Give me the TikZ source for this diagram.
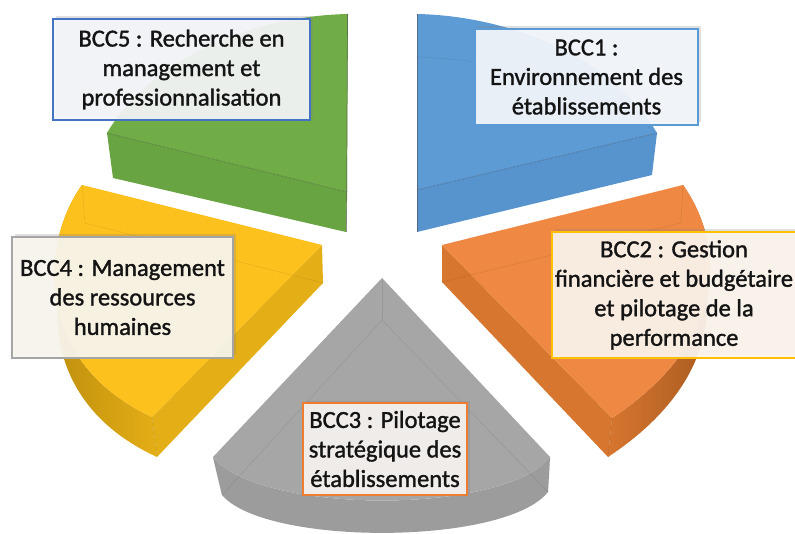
\documentclass[tikz,border=0pt]{standalone}
\usepackage{fontspec}
\setmainfont{Carlito}
\newfontfamily\bccfont{Carlito}[FakeBold=1.4]
\usetikzlibrary{shadows}
\definecolor{greenface}{HTML}{70AD47}
\definecolor{greenwall}{HTML}{69A443}
\definecolor{blueface}{HTML}{5D9BD5}
\definecolor{bluewall}{HTML}{5794CD}
\definecolor{orangeface}{HTML}{EE8843}
\definecolor{orangewall}{HTML}{D7762F}
\definecolor{orangedark}{HTML}{A0561E}
\definecolor{grayface}{HTML}{A6A6A6}
\definecolor{graywall}{HTML}{9C9C9C}
\definecolor{yellowface}{HTML}{FDC11D}
\definecolor{yellowwall}{HTML}{E4AE16}
\definecolor{yellowdark}{HTML}{B8890C}
\definecolor{lineone}{HTML}{5B9BD5}
\definecolor{linetwo}{HTML}{FFC000}
\definecolor{linethree}{HTML}{ED7D31}
\definecolor{linefour}{HTML}{A5A5A5}
\definecolor{linefive}{HTML}{4472C4}
\begin{document}
\begin{tikzpicture}[x=1pt,y=1pt,yscale=-1,xscale=1,
  bccbox/.style={draw, line width=1.2pt, align=center, inner sep=0pt, fill opacity=0.93, text opacity=1,
    font=\bccfont\fontsize{24.5}{29.5}\selectfont, text=black!92,
    drop shadow={shadow xshift=2.5pt, shadow yshift=2.5pt, opacity=0.25}},
  hidden/.style={line width=0.6pt, draw=black, draw opacity=0.08}]
\useasboundingbox (0,0) rectangle (795,534);

%Shape: Slice BCC5, wall
\fill [greenwall] (107,133) -- (347,192) -- (346,232) -- (113,178) -- cycle ;
%Shape: Slice BCC5, top
\fill [greenface] (347,192) -- (348,14) .. controls (250,16) and (150,60) .. (107,133) -- cycle ;
%Straight Lines
\draw [hidden, draw opacity=0.25] (107,133) -- (347,192) ;
\draw [line width=0.7, draw=black!70, draw opacity=0.6] (347.5,14) -- (346.5,232) ;

%Shape: Slice BCC1, wall
\fill [bluewall] (417,190) -- (657,133) -- (652,175) -- (417,232) -- cycle ;
%Shape: Slice BCC1, top
\fill [blueface] (417,190) -- (417,14) .. controls (514,16) and (614,60) .. (657,133) -- cycle ;
%Straight Lines
\draw [hidden, draw opacity=0.25] (417,190) -- (657,133) ;
\draw [hidden] (417,57) .. controls (520,60) and (620,95) .. (655,133) ;
\draw [line width=0.7, draw=black!70, draw opacity=0.6] (417,14) -- (417,232) ;

%Shape: Slice BCC2, outer wall
\shade [left color=orangewall, right color=orangedark] (683,185) .. controls (725,245) and (730,340) .. (612,418) -- (608,457) .. controls (726,379) and (722,283) .. (681,223) -- cycle ;
%Shape: Slice BCC2, side wall
\fill [orangewall] (442,245) -- (612,418) -- (608,457) -- (442,282) -- cycle ;
%Shape: Slice BCC2, top
\fill [orangeface] (442,245) -- (683,185) .. controls (725,245) and (730,340) .. (612,418) -- cycle ;
%Straight Lines
\draw [hidden] (683,185) -- (681,223) -- (442,282) ;
\draw [hidden] (612,418) -- (608,457) ;

%Shape: Slice BCC3, outer wall
\fill [graywall] (213,457) .. controls (260,515) and (505,515) .. (550,457) -- (548,492) .. controls (505,546) and (265,546) .. (222,495) -- cycle ;
%Shape: Slice BCC3, top
\fill [grayface] (382,278) -- (213,457) .. controls (260,515) and (505,515) .. (550,457) -- cycle ;
%Straight Lines
\draw [hidden] (382,278) -- (382,320) ;
\draw [hidden] (222,495) -- (382,320) -- (548,492) ;
\draw [hidden] (213,457) -- (222,495) ;
\draw [hidden] (550,457) -- (548,492) ;

%Shape: Slice BCC4, outer wall
\shade [left color=yellowdark, right color=yellowwall] (152,417) .. controls (30,360) and (42,240) .. (82,185) -- (85,223) .. controls (45,280) and (33,400) .. (157,457) -- cycle ;
%Shape: Slice BCC4, side wall
\fill [yellowwall] (322,245) -- (323,283) -- (157,457) -- (152,417) -- cycle ;
%Shape: Slice BCC4, top
\fill [yellowface] (82,185) -- (322,245) -- (152,417) .. controls (30,360) and (42,240) .. (82,185) -- cycle ;
%Straight Lines
\draw [hidden] (82,185) -- (85,223) -- (323,283) ;
\draw [hidden] (152,417) -- (157,457) ;

% Text Node
\node [bccbox, draw=linefive, fill={rgb,255:red,243;green,245;blue,248}, minimum width=257pt, minimum height=101pt] (bcc5) at (181.5,69.5) {BCC5 : Recherche en\\management et\\professionnalisation};
% Text Node
\node [bccbox, draw=lineone, fill={rgb,255:red,242;green,246;blue,251}, minimum width=223pt, minimum height=96pt] (bcc1) at (586.5,77) {BCC1 :\\Environnement des\\établissements};
% Text Node
\node [bccbox, draw=linetwo, fill={rgb,255:red,251;green,244;blue,236}, minimum width=244pt, minimum height=126pt] (bcc2) at (674,295) {BCC2 : Gestion\\financière et budgétaire\\et pilotage de la\\performance};
% Text Node
\node [bccbox, draw=linethree, fill={rgb,255:red,247;green,243;blue,239}, minimum width=164pt, minimum height=92pt] (bcc3) at (385,449) {BCC3 : Pilotage\\stratégique des\\établissements};
% Text Node
\node [bccbox, draw=linefour, fill={rgb,255:red,248;green,246;blue,238}, minimum width=221pt, minimum height=121pt] (bcc4) at (122.5,297.5) {BCC4 : Management\\des ressources\\humaines};
\end{tikzpicture}
\end{document}
